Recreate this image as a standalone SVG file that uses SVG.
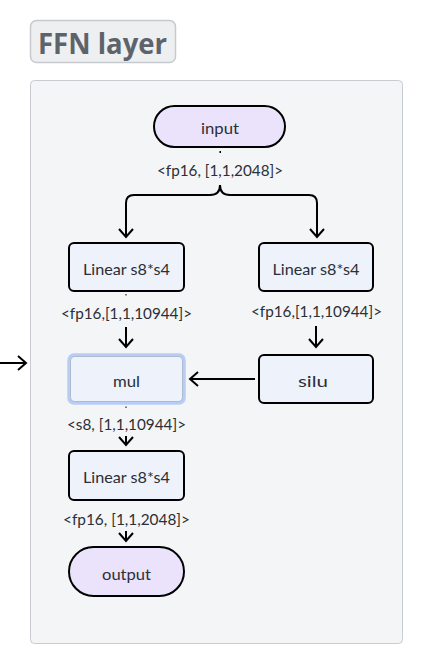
<svg xmlns="http://www.w3.org/2000/svg" width="426" height="668" viewBox="0 0 426 668">
<defs>
<marker id="ah" markerUnits="userSpaceOnUse" markerWidth="20" markerHeight="20" viewBox="-10 -10 20 20" refX="0" refY="0" orient="auto">
<path d="M-8,-7 L0,0 L-8,7" fill="none" stroke="#000" stroke-width="2" stroke-linejoin="miter"/>
</marker>
</defs>
<style>
.node{fill:#eef2fb;stroke:#000;stroke-width:2}
.pill{fill:#ebe3fb;stroke:#000;stroke-width:2}
.t{font-family:Lato,"Noto Sans",sans-serif;font-size:16px;fill:#2b2f36;text-anchor:middle;dominant-baseline:central}
.lbl{font-family:Lato,"Noto Sans",sans-serif;font-size:15px;fill:#2b2f36;text-anchor:middle;dominant-baseline:central}
.edge{fill:none;stroke:#000;stroke-width:2}
.dot{fill:#000}
</style>
<g id="title">
<rect x="30.5" y="20.5" width="145" height="42" rx="6" fill="#eeeff1" stroke="#c6c9ce" stroke-width="1.5"/>
<text x="102.5" y="43" font-family="'Open Sans','Noto Sans',sans-serif" font-size="28" font-weight="bold" fill="#5d636b" text-anchor="middle" dominant-baseline="central" textLength="129" lengthAdjust="spacingAndGlyphs">FFN layer</text>
</g>
<g id="container">
<rect x="30.5" y="80.5" width="372" height="563" rx="4" fill="#f4f5f6" stroke="#c8cbd0" stroke-width="1"/>
</g>
<g id="connectors">
<path class="edge" d="M0,363 L26,363" marker-end="url(#ah)"/>
<rect class="dot" x="219.5" y="151" width="1.5" height="2"/>
<path class="edge" d="M220,185 Q220,195 210,195 L134,195 Q126,195 126,203 L126,237" marker-end="url(#ah)"/>
<path class="edge" d="M220,185 Q220,195 230,195 L309,195 Q317,195 317,203 L317,237" marker-end="url(#ah)"/>
<rect class="dot" x="125.5" y="294" width="1" height="1.5"/>
<path class="edge" d="M126,327 L126,347" marker-end="url(#ah)"/>
<path class="edge" d="M316,326 L316,347" marker-end="url(#ah)"/>
<path class="edge" d="M255,379 L190,379" marker-end="url(#ah)"/>
<rect class="dot" x="125.5" y="406.5" width="1" height="1.5"/>
<path class="edge" d="M126,436 L126,445" marker-end="url(#ah)"/>
<path class="edge" d="M126,531 L126,541" marker-end="url(#ah)"/>
</g>
<g id="lbl-input">
<text class="lbl" x="220" y="170" textLength="126" lengthAdjust="spacingAndGlyphs">&lt;fp16, [1,1,2048]&gt;</text>
</g>
<g id="lbl-lin1">
<text class="lbl" x="126.5" y="313" textLength="131" lengthAdjust="spacingAndGlyphs">&lt;fp16,[1,1,10944]&gt;</text>
</g>
<g id="lbl-lin2">
<text class="lbl" x="316.5" y="311" textLength="131" lengthAdjust="spacingAndGlyphs">&lt;fp16,[1,1,10944]&gt;</text>
</g>
<g id="lbl-mul">
<text class="lbl" x="126.5" y="424" textLength="119" lengthAdjust="spacingAndGlyphs">&lt;s8, [1,1,10944]&gt;</text>
</g>
<g id="lbl-lin3">
<text class="lbl" x="126.5" y="519" textLength="127" lengthAdjust="spacingAndGlyphs">&lt;fp16, [1,1,2048]&gt;</text>
</g>
<g id="input">
<rect class="pill" x="154" y="106" width="131" height="41" rx="20.5"/>
<text class="t" x="220" y="127" textLength="38" lengthAdjust="spacingAndGlyphs">input</text>
</g>
<g id="linear1">
<rect class="node" x="69" y="243" width="115" height="48" rx="5"/>
<text class="t" x="126.5" y="268" textLength="87" lengthAdjust="spacingAndGlyphs">Linear s8*s4</text>
</g>
<g id="linear2">
<rect class="node" x="259" y="243" width="114" height="48" rx="5"/>
<text class="t" x="316" y="268" textLength="87" lengthAdjust="spacingAndGlyphs">Linear s8*s4</text>
</g>
<g id="mul">
<rect x="69" y="355" width="115" height="48" rx="5" fill="#eef2fb" stroke="#b8cdf6" stroke-width="3.5"/>
<rect x="70.5" y="356.5" width="112" height="45" rx="4" fill="none" stroke="#a9b3c3" stroke-width="0.8"/>
<text class="t" x="126.5" y="380" textLength="27" lengthAdjust="spacingAndGlyphs">mul</text>
</g>
<g id="silu">
<rect class="node" x="259" y="355" width="114" height="48" rx="5"/>
<text class="t" x="313" y="380" textLength="30" lengthAdjust="spacingAndGlyphs">silu</text>
</g>
<g id="linear3">
<rect class="node" x="69" y="451" width="115" height="49" rx="5"/>
<text class="t" x="126.5" y="476" textLength="87" lengthAdjust="spacingAndGlyphs">Linear s8*s4</text>
</g>
<g id="output">
<rect class="pill" x="69" y="547" width="115" height="49" rx="24.5"/>
<text class="t" x="126.5" y="573" textLength="49" lengthAdjust="spacingAndGlyphs">output</text>
</g>
</svg>
